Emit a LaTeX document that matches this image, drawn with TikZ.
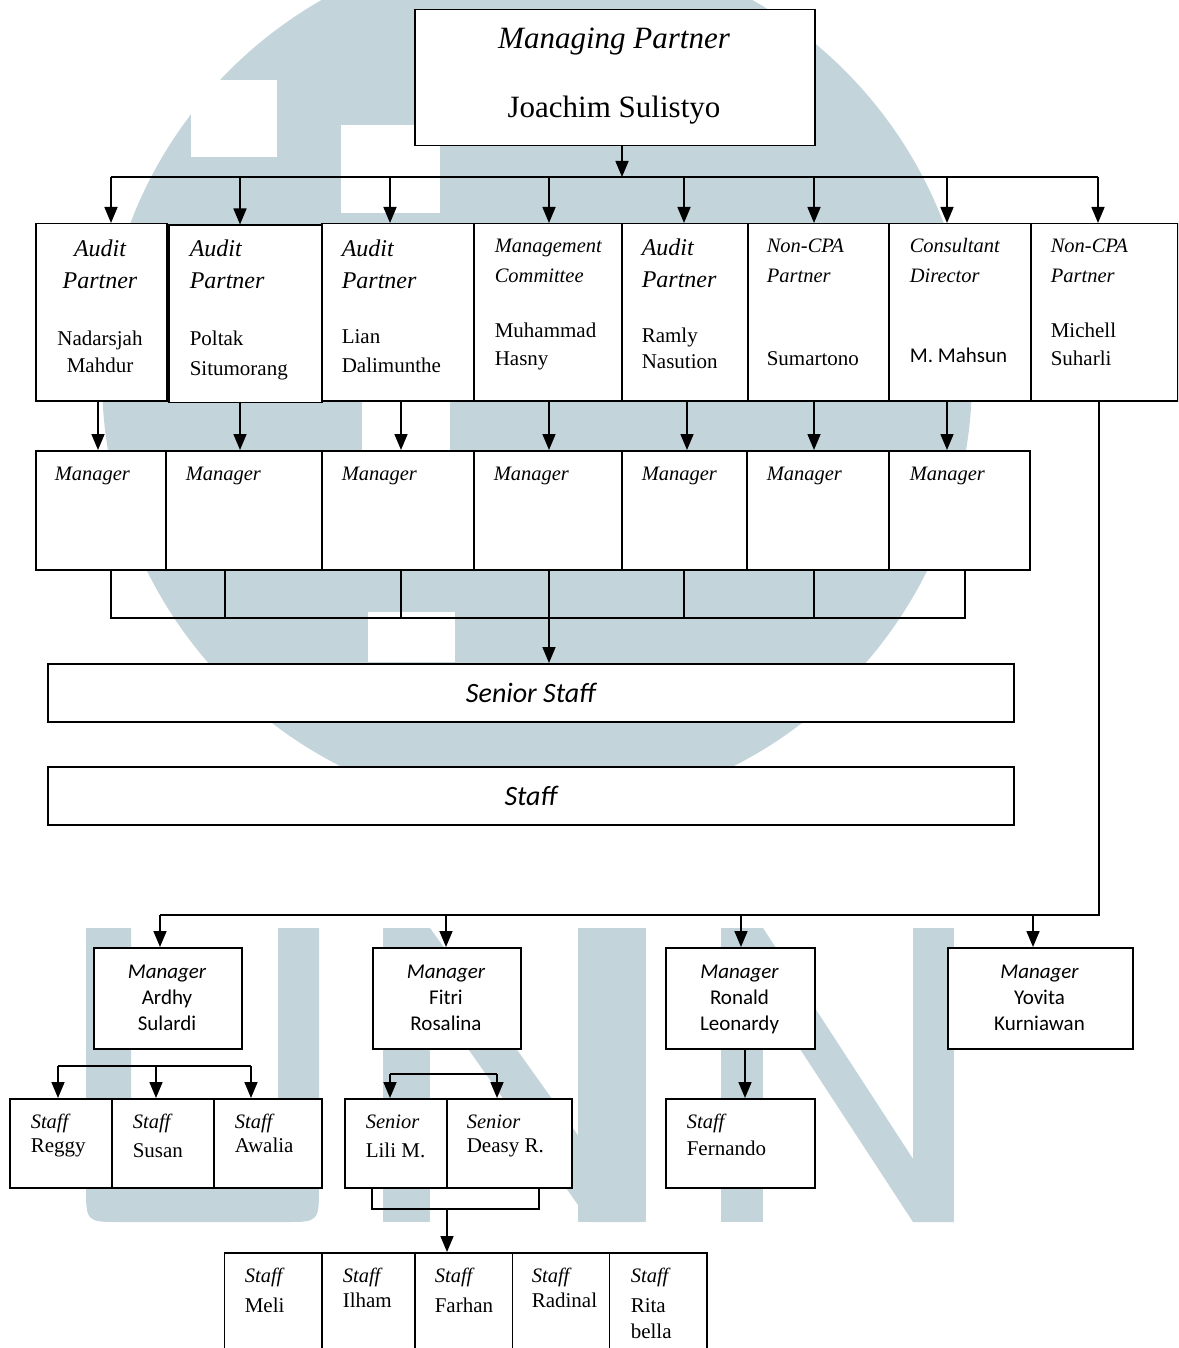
\documentclass[tikz,border=0pt]{standalone}
\usepackage{fontspec}
\setmainfont{Liberation Serif}
\newfontfamily\calibri{Carlito}
\usetikzlibrary{arrows.meta}
\definecolor{wmark}{RGB}{195,212,219}
\tikzset{
	box/.style={draw, fill=white, line width=1.5pt, inner sep=0pt, anchor=north west},
	lbl/.style={inner sep=0pt, anchor=base west},
	clbl/.style={inner sep=0pt, anchor=base},
	big/.style={font=\fontsize{24}{28}\selectfont\itshape},
	ital/.style={font=\fontsize{20.5}{24}\selectfont\itshape},
	rom/.style={font=\fontsize{21}{24}\selectfont},
	cal/.style={font=\calibri\fontsize{21}{24}\selectfont},
	calit/.style={font=\calibri\fontsize{21}{24}\selectfont\itshape},
}

\begin{document}
\begin{tikzpicture}[x=1pt, y=-1pt, line width=1.6pt, >={Triangle[length=16pt,width=13pt]}]
			\useasboundingbox (0,0) rectangle (1178,1348);
			\clip (0,0) rectangle (1178,1348);
			\begin{scope}
				\clip (0,0) rectangle (1178,765);
				\fill[wmark] (537,378) circle [radius=435pt];
			\end{scope}
			\fill[white] (191,80) rectangle (277,157);
			\fill[white] (341,125) rectangle (440,213);
			\fill[white] (362,400) rectangle (450,452);
			\fill[white] (368,612) rectangle (455,662);
			\fill[wmark] (86,928) -- (86,1185) .. controls (86,1222) and (86,1222) .. (120,1222) -- (285,1222) .. controls (319,1222) and (319,1222) .. (319,1185) -- (319,928) -- (278,928) -- (278,1180) -- (131,1180) -- (131,928) -- cycle;
			\fill[wmark] (383,928) rectangle (430,1222);
			\fill[wmark] (383,928) -- (430,928) -- (640,1222) -- (590,1222) -- cycle;
			\fill[wmark] (578,928) rectangle (646,1222);
			\fill[wmark] (721,928) rectangle (763,1222);
			\fill[wmark] (721,928) -- (763,928) -- (954,1222) -- (913,1222) -- cycle;
			\fill[wmark] (913,928) rectangle (954,1222);

			\node[box, minimum width=400pt, minimum height=136pt] (mp) at (414,9) {};
			\node[clbl, font=\fontsize{31}{34}\selectfont\itshape] (mpt) at (614,49) {Managing Partner};
			\node[clbl, font=\fontsize{31}{34}\selectfont] (mpn) at (614,118) {Joachim Sulistyo};

			\node[box, minimum width=131pt, minimum height=177pt] (p1) at (35,223) {};
			\node[box, minimum width=153pt, minimum height=177pt] (p2) at (168,224.5) {};
			\node[box, minimum width=152pt, minimum height=177pt] (p3) at (321,223) {};
			\node[box, minimum width=148pt, minimum height=177pt] (p4) at (473,223) {};
			\node[box, minimum width=126pt, minimum height=177pt] (p5) at (621,223) {};
			\node[box, minimum width=141pt, minimum height=177pt] (p6) at (747,223) {};
			\node[box, minimum width=142pt, minimum height=177pt] (p7) at (888,223) {};
			\node[box, minimum width=147pt, minimum height=177pt] (p8) at (1030,223) {};

			\node[clbl, big] (t1a) at (100,257) {Audit};
			\node[clbl, big] (t1b) at (100,288) {Partner};
			\node[clbl, rom] (t1c) at (100,345) {Nadarsjah};
			\node[clbl, rom] (t1d) at (100,372) {Mahdur};
			\node[lbl, big] (t2a) at (189,257) {Audit};
			\node[lbl, big] (t2b) at (189,288) {Partner};
			\node[lbl, rom] (t2c) at (189,345) {Poltak};
			\node[lbl, rom] (t2d) at (189,375) {Situmorang};
			\node[lbl, big] (t3a) at (341,257) {Audit};
			\node[lbl, big] (t3b) at (341,288) {Partner};
			\node[lbl, rom] (t3c) at (341,343) {Lian};
			\node[lbl, rom] (t3d) at (341,372) {Dalimunthe};
			\node[lbl, ital] (t4a) at (494,253) {Management};
			\node[lbl, ital] (t4b) at (494,282) {Committee};
			\node[lbl, rom] (t4c) at (494,337) {Muhammad};
			\node[lbl, rom] (t4d) at (494,365) {Hasny};
			\node[lbl, big] (t5a) at (641,255) {Audit};
			\node[lbl, big] (t5b) at (641,287) {Partner};
			\node[lbl, rom] (t5c) at (641,342) {Ramly};
			\node[lbl, rom] (t5d) at (641,368) {Nasution};
			\node[lbl, ital] (t6a) at (766,253) {Non-CPA};
			\node[lbl, ital] (t6b) at (766,282) {Partner};
			\node[lbl, rom] (t6c) at (766,365) {Sumartono};
			\node[lbl, ital] (t7a) at (909,253) {Consultant};
			\node[lbl, ital] (t7b) at (909,282) {Director};
			\node[lbl, cal] (t7c) at (909,362) {M. Mahsun};
			\node[lbl, ital] (t8a) at (1050,253) {Non-CPA};
			\node[lbl, ital] (t8b) at (1050,282) {Partner};
			\node[lbl, rom] (t8c) at (1050,337) {Michell};
			\node[lbl, rom] (t8d) at (1050,365) {Suharli};

			\node[box, minimum width=130pt, minimum height=119pt] (m1) at (35,450) {};
			\node[box, minimum width=156pt, minimum height=119pt] (m2) at (165,450) {};
			\node[box, minimum width=152pt, minimum height=119pt] (m3) at (321,450) {};
			\node[box, minimum width=148pt, minimum height=119pt] (m4) at (473,450) {};
			\node[box, minimum width=125pt, minimum height=119pt] (m5) at (621,450) {};
			\node[box, minimum width=142pt, minimum height=119pt] (m6) at (746,450) {};
			\node[box, minimum width=141pt, minimum height=119pt] (m7) at (888,450) {};
			\node[lbl, ital] (n1) at (54,480) {Manager};
			\node[lbl, ital] (n2) at (185,480) {Manager};
			\node[lbl, ital] (n3) at (341,480) {Manager};
			\node[lbl, ital] (n4) at (493,480) {Manager};
			\node[lbl, ital] (n5) at (641,480) {Manager};
			\node[lbl, ital] (n6) at (766,480) {Manager};
			\node[lbl, ital] (n7) at (909,480) {Manager};

			\node[box, minimum width=966pt, minimum height=58pt, font=\calibri\fontsize{28}{30}\selectfont\itshape] (ss) at (47,663) {Senior Staff};
			\node[box, minimum width=966pt, minimum height=58pt, font=\calibri\fontsize{28}{30}\selectfont\itshape] (st) at (47,766) {Staff};

			\node[box, minimum width=148pt, minimum height=101pt] (a1) at (93,947) {};
			\node[box, minimum width=148pt, minimum height=101pt] (a2) at (372,947) {};
			\node[box, minimum width=149pt, minimum height=101pt] (a3) at (665,947) {};
			\node[box, minimum width=185pt, minimum height=101pt] (a4) at (947,947) {};
			\node[clbl, calit] (r1a) at (167,978) {Manager};
			\node[clbl, cal] (r1b) at (167,1004) {Ardhy};
			\node[clbl, cal] (r1c) at (167,1030) {Sulardi};
			\node[clbl, calit] (r2a) at (446,978) {Manager};
			\node[clbl, cal] (r2b) at (446,1004) {Fitri};
			\node[clbl, cal] (r2c) at (446,1030) {Rosalina};
			\node[clbl, calit] (r3a) at (739.5,978) {Manager};
			\node[clbl, cal] (r3b) at (739.5,1004) {Ronald};
			\node[clbl, cal] (r3c) at (739.5,1030) {Leonardy};
			\node[clbl, calit] (r4a) at (1039.5,978) {Manager};
			\node[clbl, cal] (r4b) at (1039.5,1004) {Yovita};
			\node[clbl, cal] (r4c) at (1039.5,1030) {Kurniawan};

			\node[box, minimum width=102pt, minimum height=89pt] (s1) at (9,1098) {};
			\node[box, minimum width=102pt, minimum height=89pt] (s2) at (111,1098) {};
			\node[box, minimum width=108pt, minimum height=89pt] (s3) at (213,1098) {};
			\node[box, minimum width=102pt, minimum height=89pt] (sn1) at (344,1098) {};
			\node[box, minimum width=125pt, minimum height=89pt] (sn2) at (446,1098) {};
			\node[box, minimum width=149pt, minimum height=89pt] (f1) at (665,1098) {};
			\node[lbl, ital] (u1a) at (30,1128) {Staff};
			\node[lbl, rom] (u1b) at (30,1152) {Reggy};
			\node[lbl, ital] (u2a) at (132,1128) {Staff};
			\node[lbl, rom] (u2b) at (132,1157) {Susan};
			\node[lbl, ital] (u3a) at (234,1128) {Staff};
			\node[lbl, rom] (u3b) at (234,1152) {Awalia};
			\node[lbl, ital] (u4a) at (365,1128) {Senior};
			\node[lbl, rom] (u4b) at (365,1157) {Lili M.};
			\node[lbl, ital] (u5a) at (466,1128) {Senior};
			\node[lbl, rom] (u5b) at (466,1152) {Deasy R.};
			\node[lbl, ital] (u6a) at (686,1128) {Staff};
			\node[lbl, rom] (u6b) at (686,1155) {Fernando};

			\node[box, minimum width=97.5pt, minimum height=120pt] (b1) at (223.5,1252) {};
			\node[box, minimum width=93pt, minimum height=120pt] (b2) at (321,1252) {};
			\node[box, minimum width=97.5pt, minimum height=120pt] (b3) at (414,1252) {};
			\node[box, minimum width=97pt, minimum height=120pt] (b4) at (511.5,1252) {};
			\node[box, minimum width=97.5pt, minimum height=120pt] (b5) at (608.5,1252) {};
			\node[lbl, ital] (v1a) at (244,1282) {Staff};
			\node[lbl, rom] (v1b) at (244,1312) {Meli};
			\node[lbl, ital] (v2a) at (342,1282) {Staff};
			\node[lbl, rom] (v2b) at (342,1307) {Ilham};
			\node[lbl, ital] (v3a) at (434,1282) {Staff};
			\node[lbl, rom] (v3b) at (434,1312) {Farhan};
			\node[lbl, ital] (v4a) at (531,1282) {Staff};
			\node[lbl, rom] (v4b) at (531,1307) {Radinal};
			\node[lbl, ital] (v5a) at (630,1282) {Staff};
			\node[lbl, rom] (v5b) at (630,1312) {Rita};
			\node[lbl, rom] (v5c) at (630,1338) {bella};

			\coordinate (hub) at (622,177);
			\coordinate (busl) at (111,177);
			\coordinate (busr) at (1098,177);
			\draw[->] (hub |- mp.south) -- (hub);
			\draw (busl) -- (busr);
			\draw[->] (busl) -- (busl |- p1.north);
			\draw[->] (240,177) -- (240,0 |- p2.north);
			\draw[->] (390,177) -- (390,0 |- p3.north);
			\draw[->] (549,177) -- (549,0 |- p4.north);
			\draw[->] (684,177) -- (684,0 |- p5.north);
			\draw[->] (814,177) -- (814,0 |- p6.north);
			\draw[->] (947,177) -- (947,0 |- p7.north);
			\draw[->] (busr) -- (busr |- p8.north);

			\draw[->] (98,0 |- p1.south) -- (98,0 |- m1.north);
			\draw[->] (240,0 |- p2.south) -- (240,0 |- m2.north);
			\draw[->] (401,0 |- p3.south) -- (401,0 |- m3.north);
			\draw[->] (549,0 |- p4.south) -- (549,0 |- m4.north);
			\draw[->] (687,0 |- p5.south) -- (687,0 |- m5.north);
			\draw[->] (814,0 |- p6.south) -- (814,0 |- m6.north);
			\draw[->] (947,0 |- p7.south) -- (947,0 |- m7.north);

			\draw (111,0 |- m1.south) -- (111,618) -- (965,618) -- (965,0 |- m7.south);
			\draw (225,0 |- m2.south) -- (225,618);
			\draw (401,0 |- m3.south) -- (401,618);
			\draw (684,0 |- m5.south) -- (684,618);
			\draw (814,0 |- m6.south) -- (814,618);
			\draw[->] (549,0 |- m4.south) -- (549,0 |- ss.north);

			\coordinate (mbus) at (1099,915);
			\coordinate (mbusl) at (160,915);
			\draw (mbus |- p8.south) -- (mbus) -- (mbusl);
			\draw[->] (mbusl) -- (mbusl |- a1.north);
			\draw[->] (446,915) -- (446,0 |- a2.north);
			\draw[->] (741,915) -- (741,0 |- a3.north);
			\draw[->] (1033,915) -- (1033,0 |- a4.north);

			\draw (58,1066) -- (251,1066);
			\draw[->] (58,1066) -- (58,0 |- s1.north);
			\draw[->] (156,1066) -- (156,0 |- s2.north);
			\draw[->] (251,1066) -- (251,0 |- s3.north);
			\draw (390,1074) -- (497,1074);
			\draw[->] (390,1074) -- (390,0 |- sn1.north);
			\draw[->] (497,1074) -- (497,0 |- sn2.north);
			\draw[->] (745,0 |- a3.south) -- (745,0 |- f1.north);
			\draw (372,0 |- sn1.south) -- (372,1209) -- (539,1209) -- (539,0 |- sn2.south);
			\draw[->] (447,1209) -- (447,0 |- b3.north);
		\end{tikzpicture}
\end{document}
